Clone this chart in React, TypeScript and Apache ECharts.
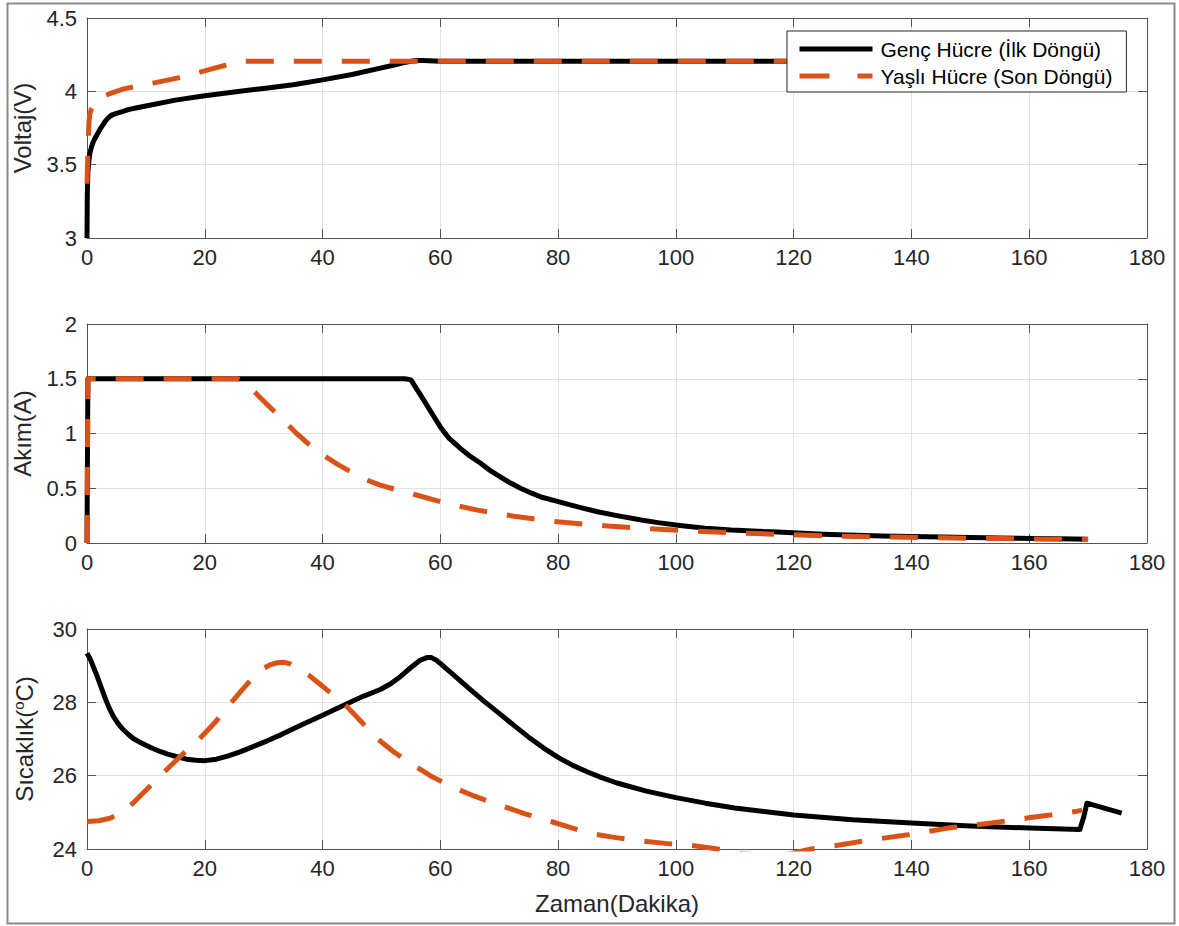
import React, { useEffect, useRef } from "react";
import * as echarts from "echarts";

// ---- Series data (time in minutes) ----
const NAME_YOUNG = "Genç Hücre (İlk Döngü)";
const NAME_OLD = "Yaşlı Hücre (Son Döngü)";

// Voltage, young cell
const voltYoungT = [0, 0.05, 0.15, 0.3, 0.5, 0.75, 1.1, 1.5, 2.2, 3, 3.5, 3.9, 4.4, 5, 6, 7, 8.5, 10, 15, 20, 25, 30, 35, 40, 45, 50, 52, 53.5, 55, 56, 57, 60, 80, 100, 120, 140, 160, 170];
const voltYoungV = [3.0, 3.3, 3.45, 3.52, 3.58, 3.62, 3.66, 3.69, 3.74, 3.79, 3.815, 3.83, 3.842, 3.85, 3.862, 3.875, 3.888, 3.9, 3.94, 3.97, 3.995, 4.02, 4.045, 4.078, 4.115, 4.16, 4.178, 4.193, 4.205, 4.21, 4.21, 4.205, 4.205, 4.205, 4.205, 4.205, 4.205, 4.205];

// Voltage, aged cell
const voltOldT = [0, 0.2, 0.35, 0.5, 0.75, 1, 1.6, 2.5, 3.9, 6.1, 8.5, 11.2, 15.3, 18, 20.9, 23.5, 25, 26, 30, 60, 100, 140, 170];
const voltOldV = [3.37, 3.65, 3.8, 3.85, 3.88, 3.9, 3.935, 3.96, 3.985, 4.015, 4.035, 4.056, 4.09, 4.118, 4.15, 4.178, 4.197, 4.205, 4.205, 4.205, 4.205, 4.205, 4.205];

// Current, young cell
const currYoungT = [0, 0.15, 5, 20, 40, 54, 55, 57, 58.5, 60, 61.5, 63.5, 65, 66.9, 68.5, 70.3, 72, 73.7, 75.5, 77.1, 80.2, 83.5, 86.7, 90, 94.1, 97, 100.3, 105, 109.4, 117.3, 125, 135, 145, 155, 165, 170];
const currYoungI = [0, 1.5, 1.5, 1.5, 1.5, 1.5, 1.49, 1.32, 1.19, 1.06, 0.955, 0.86, 0.795, 0.726, 0.66, 0.6, 0.545, 0.497, 0.455, 0.42, 0.375, 0.328, 0.285, 0.25, 0.21, 0.186, 0.163, 0.135, 0.118, 0.1, 0.08, 0.065, 0.055, 0.045, 0.038, 0.035];

// Current, aged cell
const currOldT = [0, 0.15, 10, 20, 25.5, 26.5, 27.4, 29, 30.5, 32.8, 35.6, 37.5, 39.6, 42.5, 45.3, 47.5, 49.8, 53, 56.1, 59.5, 62.9, 66.3, 69.7, 72.5, 75.4, 78.8, 82.2, 85.3, 88.4, 95.2, 102.6, 110.5, 116.7, 125, 135, 145, 155, 165, 170];
const currOldI = [0, 1.5, 1.5, 1.5, 1.5, 1.48, 1.44, 1.35, 1.27, 1.15, 1.0, 0.91, 0.82, 0.72, 0.635, 0.575, 0.528, 0.48, 0.436, 0.385, 0.34, 0.3, 0.27, 0.245, 0.223, 0.2, 0.183, 0.168, 0.156, 0.131, 0.11, 0.092, 0.08, 0.066, 0.055, 0.047, 0.04, 0.035, 0.033];

// Temperature, young cell
const tempYoungT = [0, 0.5, 1, 1.6, 2.2, 3, 3.7, 4.4, 5.2, 6, 7, 7.8, 9, 10, 11.2, 12.4, 13.7, 15, 16.9, 18.5, 20, 22, 24, 26, 28, 30.6, 33, 36.2, 40, 44.7, 47, 49.8, 51.5, 53.2, 55, 56.5, 57.7, 58.5, 59.3, 60, 61, 62, 63.5, 65, 67.5, 70, 72.5, 75, 77.5, 80, 82.5, 85, 87.5, 90, 95, 100, 105, 110, 115, 120, 130, 140, 150, 160, 168.6, 169.3, 169.8, 172, 175.7];
const tempYoungC = [29.34, 29.2, 29.0, 28.76, 28.5, 28.15, 27.87, 27.64, 27.44, 27.28, 27.13, 27.02, 26.91, 26.83, 26.74, 26.66, 26.59, 26.53, 26.45, 26.42, 26.41, 26.45, 26.54, 26.65, 26.78, 26.95, 27.12, 27.37, 27.65, 28.0, 28.17, 28.35, 28.5, 28.7, 28.95, 29.14, 29.22, 29.22, 29.15, 29.06, 28.92, 28.78, 28.57, 28.36, 28.02, 27.7, 27.37, 27.05, 26.76, 26.5, 26.28, 26.1, 25.94, 25.8, 25.58, 25.4, 25.25, 25.12, 25.02, 24.93, 24.8, 24.71, 24.63, 24.57, 24.53, 24.9, 25.25, 25.15, 24.98];

// Temperature, aged cell
const tempOldT = [0, 2, 3.9, 5, 6, 7, 7.8, 10, 11.7, 13.5, 16, 19.2, 22, 24.9, 26.3, 27.5, 28.8, 30, 31.2, 32.3, 33.5, 34.5, 36.2, 37.6, 39, 41.5, 44.1, 46.7, 49.2, 52, 54.9, 58.3, 61.8, 65.8, 70, 74.4, 78.8, 85, 89.8, 94.6, 99, 103.1, 107.1, 111, 115, 119, 123, 127, 133.2, 139.4, 146.2, 153.6, 159.9, 167.8, 169];
const tempOldC = [24.75, 24.77, 24.84, 24.92, 25.02, 25.13, 25.25, 25.6, 25.88, 26.16, 26.55, 27.02, 27.5, 28.07, 28.33, 28.55, 28.76, 28.93, 29.03, 29.08, 29.09, 29.05, 28.89, 28.75, 28.57, 28.24, 27.89, 27.45, 27.02, 26.66, 26.34, 26.0, 25.71, 25.44, 25.2, 24.96, 24.75, 24.44, 24.31, 24.21, 24.14, 24.09, 24.0, 23.88, 23.82, 23.86, 24.0, 24.09, 24.25, 24.39, 24.57, 24.71, 24.85, 25.02, 25.06];

// Axis ranges
const timeRange = { min: 0, max: 180, interval: 20 };
const voltRange = { min: 3, max: 4.5, interval: 0.5 };
const currRange = { min: 0, max: 2, interval: 0.5 };
const tempRange = { min: 24, max: 30, interval: 2 };

const pairs = (t: number[], v: number[]) => t.map((x, i) => [x, v[i]]);

const FONT = "Liberation Sans, Arial, Helvetica, sans-serif";
const AXIS_COLOR = "#555555";
const TEXT_COLOR = "#262626";
const GRID_COLOR = "#e2e2e2";
const ORANGE = "#D95319";
const DASH = [28, 20];

const grids = [
  { left: 87, right: 32, top: 18, height: 220 },
  { left: 87, right: 32, top: 324, height: 219 },
  { left: 87, right: 32, top: 629, height: 220 },
];

export default function App() {
  const ref = useRef<HTMLDivElement>(null);

  useEffect(() => {
    if (!ref.current) return;
    const chart = echarts.init(ref.current, undefined, { renderer: "svg" });

    const xAxes: any[] = [];
    const yAxes: any[] = [];
    const yRanges = [voltRange, currRange, tempRange];
    const yNames = ["Voltaj(V)", "Akım(A)", "Sıcaklık({sup|o}C)"];

    grids.forEach((_, g) => {
      // bottom axis with labels
      xAxes.push({
        type: "value",
        gridIndex: g,
        position: "bottom",
        ...timeRange,
        name: g === 2 ? "Zaman(Dakika)" : "",
        nameLocation: "middle",
        nameGap: 42,
        nameTextStyle: { fontSize: 24, color: TEXT_COLOR, fontFamily: FONT },
        axisLine: { show: true, onZero: false, lineStyle: { color: AXIS_COLOR, width: 1 } },
        axisTick: { show: true, inside: true, length: 9, lineStyle: { color: AXIS_COLOR } },
        axisLabel: { show: true, margin: 8, fontSize: 22, color: TEXT_COLOR, fontFamily: FONT },
        splitLine: { show: true, lineStyle: { color: GRID_COLOR, width: 1 } },
      });
      // top box edge
      xAxes.push({
        type: "value",
        gridIndex: g,
        position: "top",
        ...timeRange,
        axisLine: { show: true, onZero: false, lineStyle: { color: AXIS_COLOR, width: 1 } },
        axisTick: { show: true, inside: true, length: 9, lineStyle: { color: AXIS_COLOR } },
        axisLabel: { show: false },
        splitLine: { show: false },
      });
      // left axis with labels
      yAxes.push({
        type: "value",
        gridIndex: g,
        position: "left",
        ...yRanges[g],
        name: yNames[g],
        nameLocation: "middle",
        nameGap: 50,
        nameTextStyle: {
          fontSize: 24,
          lineHeight: 26,
          color: TEXT_COLOR,
          fontFamily: FONT,
          rich: { sup: { fontSize: 15, lineHeight: 14, verticalAlign: "top", color: TEXT_COLOR, fontFamily: FONT } },
        },
        axisLine: { show: true, onZero: false, lineStyle: { color: AXIS_COLOR, width: 1 } },
        axisTick: { show: true, inside: true, length: 9, lineStyle: { color: AXIS_COLOR } },
        axisLabel: { show: true, margin: 10, fontSize: 22, color: TEXT_COLOR, fontFamily: FONT },
        splitLine: { show: true, lineStyle: { color: GRID_COLOR, width: 1 } },
      });
      // right box edge
      yAxes.push({
        type: "value",
        gridIndex: g,
        position: "right",
        ...yRanges[g],
        axisLine: { show: true, onZero: false, lineStyle: { color: AXIS_COLOR, width: 1 } },
        axisTick: { show: true, inside: true, length: 9, lineStyle: { color: AXIS_COLOR } },
        axisLabel: { show: false },
        splitLine: { show: false },
      });
    });

    const seriesSets = [
      [pairs(voltYoungT, voltYoungV), pairs(voltOldT, voltOldV)],
      [pairs(currYoungT, currYoungI), pairs(currOldT, currOldI)],
      [pairs(tempYoungT, tempYoungC), pairs(tempOldT, tempOldC)],
    ];

    const series: any[] = [];
    seriesSets.forEach(([young, old], g) => {
      series.push({
        type: "line",
        name: NAME_YOUNG,
        xAxisIndex: g * 2,
        yAxisIndex: g * 2,
        data: young,
        symbol: "none",
        showSymbol: false,
        clip: true,
        lineStyle: { color: "#000000", width: 5, type: "solid", join: "round" },
        itemStyle: { color: "#000000" },
      });
      series.push({
        type: "line",
        name: NAME_OLD,
        xAxisIndex: g * 2,
        yAxisIndex: g * 2,
        data: old,
        symbol: "none",
        showSymbol: false,
        clip: true,
        lineStyle: { color: ORANGE, width: 5, type: DASH, join: "round" },
        itemStyle: { color: ORANGE },
      });
    });

    chart.setOption({
      animation: false,
      backgroundColor: "#ffffff",
      grid: grids,
      xAxis: xAxes,
      yAxis: yAxes,
      series,
      legend: {
        orient: "vertical",
        left: 787,
        top: 31,
        padding: [6, 14, 4, 10],
        itemGap: 3,
        itemWidth: 73,
        itemHeight: 14,
        backgroundColor: "#ffffff",
        borderColor: "#262626",
        borderWidth: 1,
        borderRadius: 0,
        selectedMode: false,
        itemStyle: { opacity: 0 },
        textStyle: { fontSize: 21, lineHeight: 24, color: "#000000", fontFamily: FONT, padding: [0, 0, 0, 3] },
        data: [
          { name: NAME_YOUNG, lineStyle: { width: 5, color: "#000000" } },
          { name: NAME_OLD, lineStyle: { width: 5, color: ORANGE, type: [30, 28] } },
        ],
      },
      graphic: [
        {
          type: "rect",
          left: 5,
          top: 1,
          shape: { x: 0, y: 0, width: 1167, height: 920 },
          style: { fill: "none", stroke: "#8c8c8c", lineWidth: 2 },
          silent: true,
        },
      ],
    });

    return () => chart.dispose();
  }, []);

  return (
    <div
      ref={ref}
      style={{ position: "absolute", left: 0, top: 0, width: 1179, height: 926, background: "#ffffff" }}
    />
  );
}
